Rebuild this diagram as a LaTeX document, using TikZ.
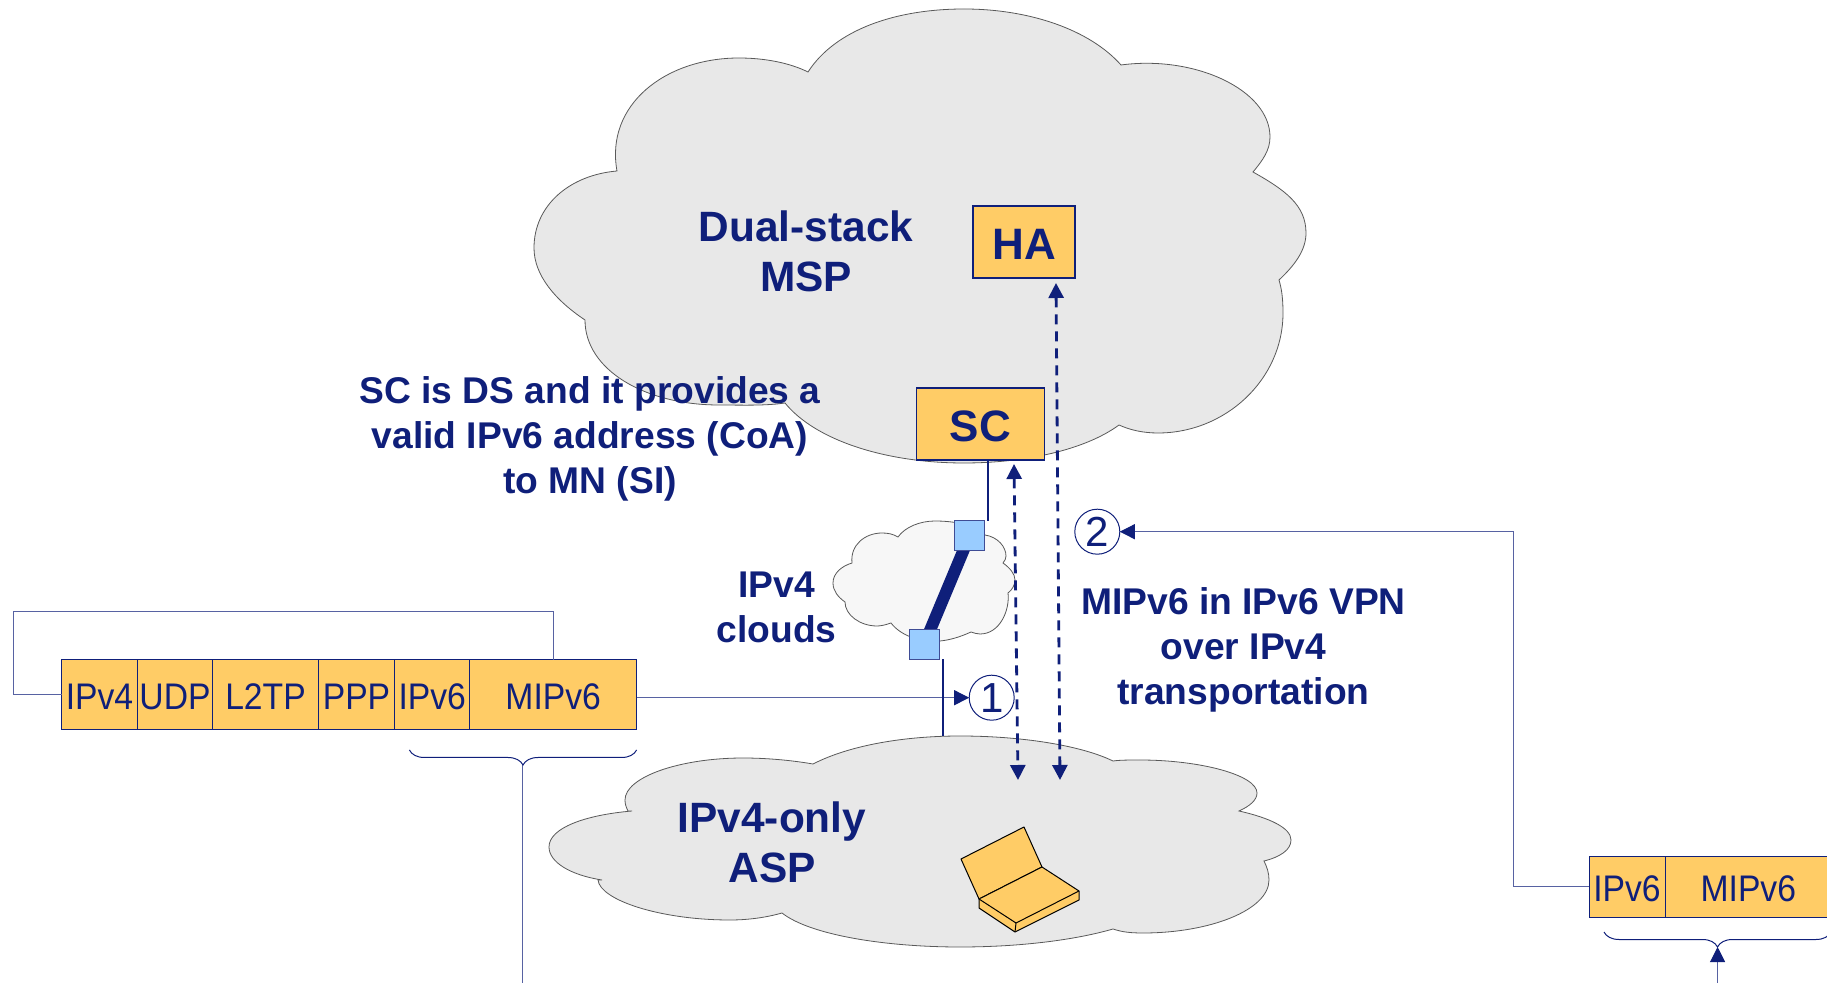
\documentclass[tikz,border=0pt]{standalone}
\usepackage{fontspec}
\usepackage{xcolor}
\setmainfont{Liberation Sans}
\newfontfamily\cellfont[FakeStretch=0.91]{Liberation Sans}
\definecolor{msnavy}{HTML}{0F1F7A}
\definecolor{msorange}{HTML}{FFCC66}
\definecolor{msblue}{HTML}{99CCFF}
\usetikzlibrary{positioning}
\usetikzlibrary{arrows.meta}
\usetikzlibrary{decorations.pathreplacing}
\pgfdeclarelayer{front}
\pgfsetlayers{main,front}

\begin{document}
\begin{tikzpicture}[
x=0.5pt, y=-0.5pt, >={Triangle[width=7.5pt,length=7.5pt,color=msnavy]},
bigcloud/.style={draw=black!65, fill=black!9, line width=0.4pt},
smallcloud/.style={draw=black!65, fill=black!3, line width=0.4pt},
boxnode/.style={rectangle, draw=msnavy, fill=msorange, line width=0.8pt, inner sep=0pt, outer sep=0pt, text=msnavy, text height=18pt, text depth=0pt, font=\fontsize{22}{25}\bfseries\selectfont},
stackcell/.style={rectangle, draw=msnavy, fill=msorange, line width=0.5pt, inner sep=0pt, outer sep=0pt, minimum height=34.7pt, text=msnavy, text height=15.2pt, text depth=0pt, font=\fontsize{18.5}{22}\cellfont},
routernode/.style={rectangle, draw=msnavy!80, fill=msblue, line width=0.5pt, inner sep=0pt, outer sep=0pt, minimum size=15pt},
stepnode/.style={circle, draw=msnavy, line width=0.5pt, inner sep=0pt, outer sep=0pt, minimum size=22.5pt, text=msnavy, font=\fontsize{21}{22}\selectfont},
bigtext/.style={align=center, text=msnavy, font=\fontsize{21.2}{25}\bfseries\selectfont},
smalltext/.style={align=center, text=msnavy, font=\fontsize{18.6}{22.5}\bfseries\selectfont},
thinline/.style={draw=msnavy!70, line width=0.5pt},
dashline/.style={draw=msnavy, line width=1.4pt, dash pattern=on 5pt off 3.5pt, <->},
laptop/.style={draw=black, fill=msorange, line width=0.5pt, line join=round}]
\clip (0,0) rectangle (1827,983);

\draw[bigcloud] (617,171) .. controls (605,105) and (665,58) .. (739,58)
 .. controls (765,58) and (790,63) .. (808,72)
 .. controls (835,30) and (895,9) .. (964,9)
 .. controls (1030,9) and (1090,30) .. (1121,65)
 .. controls (1195,55) and (1270,90) .. (1270,137)
 .. controls (1270,150) and (1263,160) .. (1253,172)
 .. controls (1285,190) and (1306,205) .. (1306,233)
 .. controls (1306,250) and (1295,265) .. (1279,280)
 .. controls (1282,290) and (1283,300) .. (1283,313)
 .. controls (1283,380) and (1225,433) .. (1158,433)
 .. controls (1143,433) and (1130,430) .. (1119,425)
 .. controls (1085,450) and (1025,463) .. (964,463)
 .. controls (885,463) and (815,440) .. (785,403)
 .. controls (765,406) and (740,405) .. (719,405)
 .. controls (645,405) and (585,370) .. (585,320)
 .. controls (555,300) and (534,275) .. (534,248)
 .. controls (534,205) and (570,175) .. (617,171) -- cycle;

\draw[bigcloud] (632,811) .. controls (585,815) and (549,828) .. (549,847)
 .. controls (549,862) and (570,875) .. (602,880) -- (598,880)
 .. controls (600,900) and (660,920) .. (730,920)
 .. controls (750,920) and (768,917) .. (782,913)
 .. controls (810,935) and (885,947) .. (960,947)
 .. controls (1020,947) and (1075,940) .. (1113,929)
 .. controls (1122,932) and (1130,933) .. (1143,933)
 .. controls (1210,933) and (1269,910) .. (1269,880)
 .. controls (1269,873) and (1267,867) .. (1264,861)
 .. controls (1280,857) and (1291,850) .. (1291,840)
 .. controls (1291,828) and (1270,818) .. (1239,811)
 .. controls (1250,806) and (1257,800) .. (1257,793)
 .. controls (1257,775) and (1200,760) .. (1140,760)
 .. controls (1130,760) and (1120,760) .. (1113,761)
 .. controls (1080,745) and (1020,736) .. (960,736)
 .. controls (905,736) and (850,745) .. (813,764)
 .. controls (790,760) and (765,758) .. (743,758)
 .. controls (680,758) and (625,777) .. (625,800)
 .. controls (625,804) and (626,807) .. (628,811) -- cycle;

\draw[smallcloud] (898,537) .. controls (905,527) and (920,521) .. (935,521)
 .. controls (955,521) and (975,525) .. (985,535)
 .. controls (998,537) and (1006,547) .. (1006,556)
 .. controls (1006,558) and (1005,561) .. (1003,563)
 .. controls (1010,568) and (1015,574) .. (1015,580)
 .. controls (1015,585) and (1012,590) .. (1008,593)
 .. controls (1010,610) and (1000,634) .. (980,634)
 .. controls (977,634) and (974,633) .. (971,632)
 .. controls (960,637) and (950,640) .. (940,641)
 .. controls (920,643) and (900,635) .. (891,623)
 .. controls (885,625) and (881,626) .. (877,626)
 .. controls (860,626) and (845,615) .. (845,602)
 .. controls (838,597) and (833,591) .. (833,583)
 .. controls (833,573) and (842,566) .. (852,563)
 .. controls (850,545) and (865,533) .. (882,533)
 .. controls (888,533) and (893,534) .. (898,537) -- cycle;

\node[bigtext] (dualtext) at (806,251.5) {Dual-stack\\MSP};
\node[bigtext] (asptext) at (772,842.5) {IPv4-only\\ASP};
\node[smalltext] (sctext) at (590,438.5) {SC is DS and it provides a\\valid IPv6 address (CoA)\\to MN (SI)};
\node[smalltext] (cloudtext) at (776.5,607) {IPv4\\clouds};
\node[smalltext] (viatext) at (1243.5,649.5) {MIPv6 in IPv6 VPN\\over IPv4\\transportation};

\node[boxnode, minimum width=51pt, minimum height=36.2pt] (ha) at (1024,242) {HA};
\node[boxnode, minimum width=64pt, minimum height=36.2pt] (sc) at (980.5,424) {SC};

\begin{pgfonlayer}{front}
\node[routernode] (routerup) at (969.6,535.7) {};
\node[routernode] (routerlow) at (924.2,644.3) {};
\end{pgfonlayer}
\draw[msnavy, line width=6pt] (routerup.center) -- (routerlow.center);

\node[stepnode] (one) at (991.7,697.7) {1};
\node[stepnode] (two) at (1097.3,531.7) {2};

\node[stackcell, minimum width=38pt] (ipvfour) at (99.5,694.7) {IPv4};
\node[stackcell, minimum width=37.5pt] (udp) [right=0pt of ipvfour] {UDP};
\node[stackcell, minimum width=53pt] (ltwotp) [right=0pt of udp] {L2TP};
\node[stackcell, minimum width=38pt] (ppp) [right=0pt of ltwotp] {PPP};
\node[stackcell, minimum width=37.7pt] (ipvsix) [right=0pt of ppp] {IPv6};
\node[stackcell, minimum width=83.3pt] (mipvsix) [right=0pt of ipvsix] {MIPv6};

\node[stackcell, minimum width=38pt, minimum height=30.4pt] (ipvsixb) at (1627,886.7) {IPv6};
\node[stackcell, minimum width=83.3pt, minimum height=30.4pt] (mipvsixb) [right=0pt of ipvsixb] {MIPv6};

\coordinate (loop) at (13.4,611.7);
\coordinate (bend) at (1513.3,531.7);
\coordinate (braceleft) at (409.4,750);
\coordinate (braceright) at (636.6,750);
\coordinate (bracetip) at (522.8,765);
\coordinate (braceleftb) at (1604,932);
\coordinate (bracerightb) at (1831,932);
\coordinate (bracetipb) at (1717.6,947);
\coordinate (leftfoot) at (522.8,983);
\coordinate (rightfoot) at (1717.6,983);
\coordinate (asptop) at (942.7,736);
\coordinate (inner) at (1014,464);
\coordinate (innerlow) at (1018,780);
\coordinate (outer) at (1056,283);
\coordinate (outerlow) at (1060,780);

\draw[thinline] (ipvfour.west) -| (loop) -| (mipvsix.north);
\draw[thinline, ->] (mipvsix.east |- one) -- (one);
\draw[thinline, ->] (ipvsixb.west) -| (bend) -- (two);
\draw[thinline] (bracetip) -- (leftfoot);
\draw[thinline, ->] (rightfoot) -- (bracetipb);
\draw[msnavy, line width=0.5pt, decorate, decoration={brace, mirror, amplitude=7.5pt}] (braceleft) -- (braceright);
\draw[msnavy, line width=0.5pt, decorate, decoration={brace, mirror, amplitude=7.5pt}] (braceleftb) -- (bracerightb);

\draw[msnavy, line width=0.8pt] ([xshift=3.6pt]sc.south) -- ([xshift=3.6pt]sc.south |- routerup.north);
\draw[msnavy, line width=0.8pt] (asptop |- routerlow.south) -- (asptop);
\draw[dashline] (inner) -- (innerlow);
\draw[dashline] (outer) -- (outerlow);

\draw[laptop] (961,859) -- (1024,827) -- (1042,867) -- (979,899) -- cycle;
\draw[laptop] (979,899) -- (979,908) -- (1015,932) -- (1079,900) -- (1079,891) -- (1042,867) -- cycle;
\draw[laptop] (979,899) -- (1016,923) -- (1079,891);
\draw[laptop] (1016,923) -- (1015,932);
\end{tikzpicture}
\end{document}
